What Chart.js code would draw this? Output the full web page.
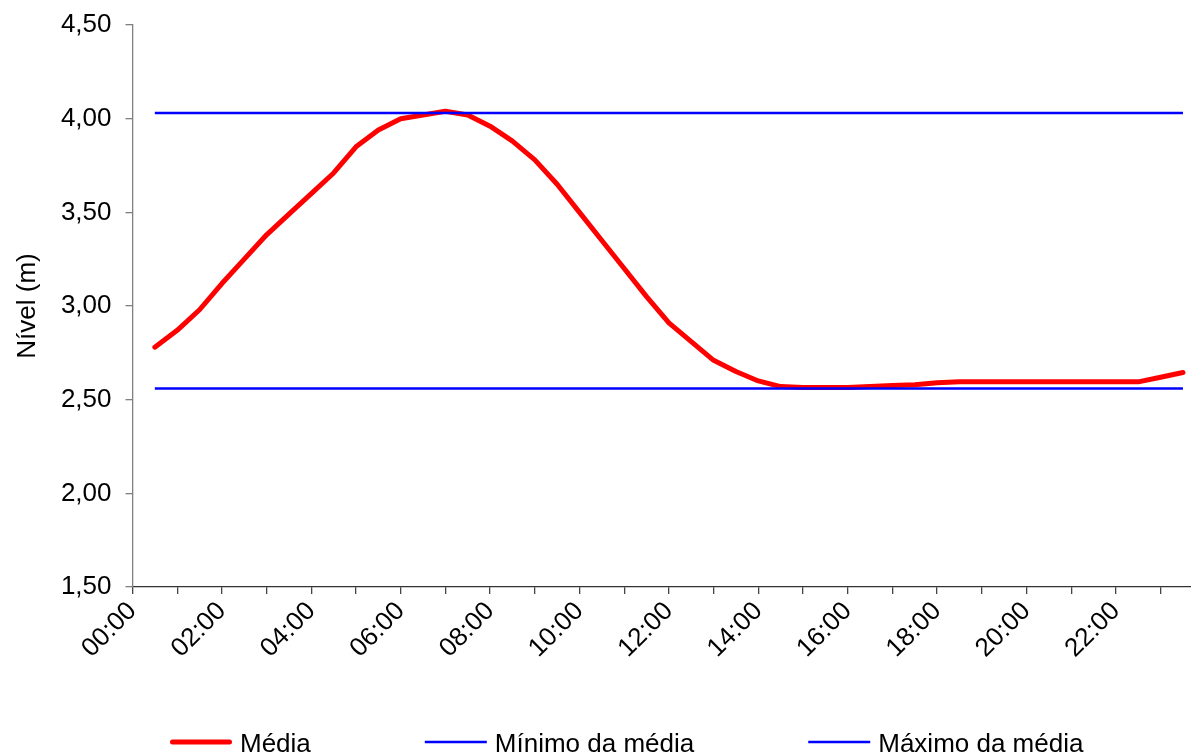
<!DOCTYPE html>
<html>
<head>
<meta charset="utf-8">
<script src="https://cdn.jsdelivr.net/npm/chart.js@4.4.1/dist/chart.umd.min.js"></script>
<style>
  html, body { margin: 0; padding: 0; background: #ffffff; overflow: hidden; }
  #wrap { width: 1191px; height: 755px; position: relative; }
</style>
</head>
<body>
<div id="wrap"><canvas id="grafico" width="1191" height="755"></canvas></div>
<script>
// Horários das medições (meia em meia hora)
const horarios = [
  '00:30','01:00','01:30','02:00','02:30','03:00','03:30','04:00','04:30','05:00',
  '05:30','06:00','06:30','07:00','07:30','08:00','08:30','09:00','09:30','10:00',
  '10:30','11:00','11:30','12:00','12:30','13:00','13:30','14:00','14:30','15:00',
  '15:30','16:00','16:30','17:00','17:30','18:00','18:30','19:00','19:30','20:00',
  '20:30','21:00','21:30','22:00','22:30','23:00','23:30'
];

// Nível médio (m)
const media = [
  2.78, 2.87, 2.98, 3.12, 3.25, 3.38, 3.49, 3.60, 3.71, 3.85,
  3.94, 4.00, 4.02, 4.04, 4.02, 3.96, 3.88, 3.78, 3.65, 3.50,
  3.35, 3.20, 3.05, 2.91, 2.81, 2.71, 2.65, 2.60, 2.57, 2.565,
  2.565, 2.565, 2.57, 2.575, 2.58, 2.59, 2.595, 2.595, 2.595, 2.595,
  2.595, 2.595, 2.595, 2.595, 2.595, 2.62, 2.645
];

// Mínimo da média (m)
const minimoDaMedia = [
  2.56, 2.56, 2.56, 2.56, 2.56, 2.56, 2.56, 2.56, 2.56, 2.56,
  2.56, 2.56, 2.56, 2.56, 2.56, 2.56, 2.56, 2.56, 2.56, 2.56,
  2.56, 2.56, 2.56, 2.56, 2.56, 2.56, 2.56, 2.56, 2.56, 2.56,
  2.56, 2.56, 2.56, 2.56, 2.56, 2.56, 2.56, 2.56, 2.56, 2.56,
  2.56, 2.56, 2.56, 2.56, 2.56, 2.56, 2.56
];

// Máximo da média (m)
const maximoDaMedia = [
  4.03, 4.03, 4.03, 4.03, 4.03, 4.03, 4.03, 4.03, 4.03, 4.03,
  4.03, 4.03, 4.03, 4.03, 4.03, 4.03, 4.03, 4.03, 4.03, 4.03,
  4.03, 4.03, 4.03, 4.03, 4.03, 4.03, 4.03, 4.03, 4.03, 4.03,
  4.03, 4.03, 4.03, 4.03, 4.03, 4.03, 4.03, 4.03, 4.03, 4.03,
  4.03, 4.03, 4.03, 4.03, 4.03, 4.03, 4.03
];

// Rótulos do eixo horizontal (a cada duas horas)
const rotulosHoras = ['00:00','02:00','04:00','06:00','08:00','10:00','12:00','14:00','16:00','18:00','20:00','22:00'];

const FONTE = '"Liberation Sans", Arial, sans-serif';
const TAM = 26;

function emHoras(h) {
  const [hh, mm] = h.split(':').map(Number);
  return hh + mm / 60;
}
function pontos(valores) {
  return horarios.map((h, i) => ({ x: emHoras(h), y: valores[i] }));
}

// Legenda desenhada abaixo do gráfico, com amostra de linha e texto
const legendaInferior = {
  id: 'legendaInferior',
  afterDraw(chart) {
    const ctx = chart.ctx;
    ctx.save();
    ctx.font = TAM + 'px ' + FONTE;
    ctx.textBaseline = 'alphabetic';
    ctx.textAlign = 'left';
    const yLinha = 742;
    const yTexto = 752;
    const amostra = 62, folga = 8, espaco = 114;
    let x = 170;
    chart.data.datasets.forEach(ds => {
      ctx.strokeStyle = ds.borderColor;
      ctx.lineWidth = ds.borderWidth;
      ctx.lineCap = ds.borderCapStyle || 'butt';
      const r = ctx.lineCap === 'round' ? ds.borderWidth / 2 : 0;
      ctx.beginPath();
      ctx.moveTo(x + r, yLinha);
      ctx.lineTo(x + amostra - r, yLinha);
      ctx.stroke();
      ctx.fillStyle = '#000000';
      const tx = x + amostra + folga;
      ctx.fillText(ds.label, tx, yTexto);
      x = tx + ctx.measureText(ds.label).width + espaco;
    });
    ctx.restore();
  }
};

new Chart(document.getElementById('grafico'), {
  type: 'line',
  data: {
    datasets: [
      {
        label: 'Média',
        data: pontos(media),
        borderColor: '#ff0000',
        backgroundColor: '#ff0000',
        borderWidth: 5,
        borderCapStyle: 'round',
        borderJoinStyle: 'round',
        pointRadius: 0,
        tension: 0,
        order: 3
      },
      {
        label: 'Mínimo da média',
        data: pontos(minimoDaMedia),
        borderColor: '#0000ff',
        backgroundColor: '#0000ff',
        borderWidth: 2.5,
        pointRadius: 0,
        tension: 0,
        order: 1
      },
      {
        label: 'Máximo da média',
        data: pontos(maximoDaMedia),
        borderColor: '#0000ff',
        backgroundColor: '#0000ff',
        borderWidth: 2.5,
        pointRadius: 0,
        tension: 0,
        order: 2
      }
    ]
  },
  options: {
    responsive: false,
    animation: false,
    devicePixelRatio: 1,
    layout: { padding: { top: 25, right: 0, bottom: 68, left: 0 } },
    plugins: {
      legend: { display: false },
      tooltip: { enabled: false }
    },
    scales: {
      x: {
        type: 'linear',
        min: 0,
        max: 23.68,
        afterFit(s) { s.height = 100; },
        border: { color: '#333333', width: 1.3 },
        grid: { drawOnChartArea: false, drawTicks: true, tickLength: 7, color: '#444444', lineWidth: 1.3 },
        ticks: {
          stepSize: 1,
          autoSkip: false,
          includeBounds: false,
          maxRotation: 45,
          minRotation: 45,
          padding: 2,
          color: '#000000',
          font: { family: FONTE, size: TAM },
          callback: v => (Number.isInteger(v) && v % 2 === 0) ? rotulosHoras[v / 2] : ''
        }
      },
      y: {
        min: 1.5,
        max: 4.5,
        afterFit(s) {
          s.width = 132.5;
          // só a metade da altura do rótulo extremo precisa de espaço
          s.paddingTop = 16;
          s.paddingBottom = 16;
        },
        border: { color: '#808080', width: 1.3 },
        grid: { drawOnChartArea: false, drawTicks: true, tickLength: 7, color: '#808080', lineWidth: 1.3 },
        ticks: {
          stepSize: 0.5,
          padding: 14,
          color: '#000000',
          font: { family: FONTE, size: TAM },
          callback: v => v.toFixed(2).replace('.', ',')
        },
        title: {
          display: true,
          text: 'Nível (m)',
          color: '#000000',
          font: { family: FONTE, size: TAM },
          padding: { top: 12, bottom: 0 }
        }
      }
    }
  },
  plugins: [legendaInferior]
});
</script>
</body>
</html>
